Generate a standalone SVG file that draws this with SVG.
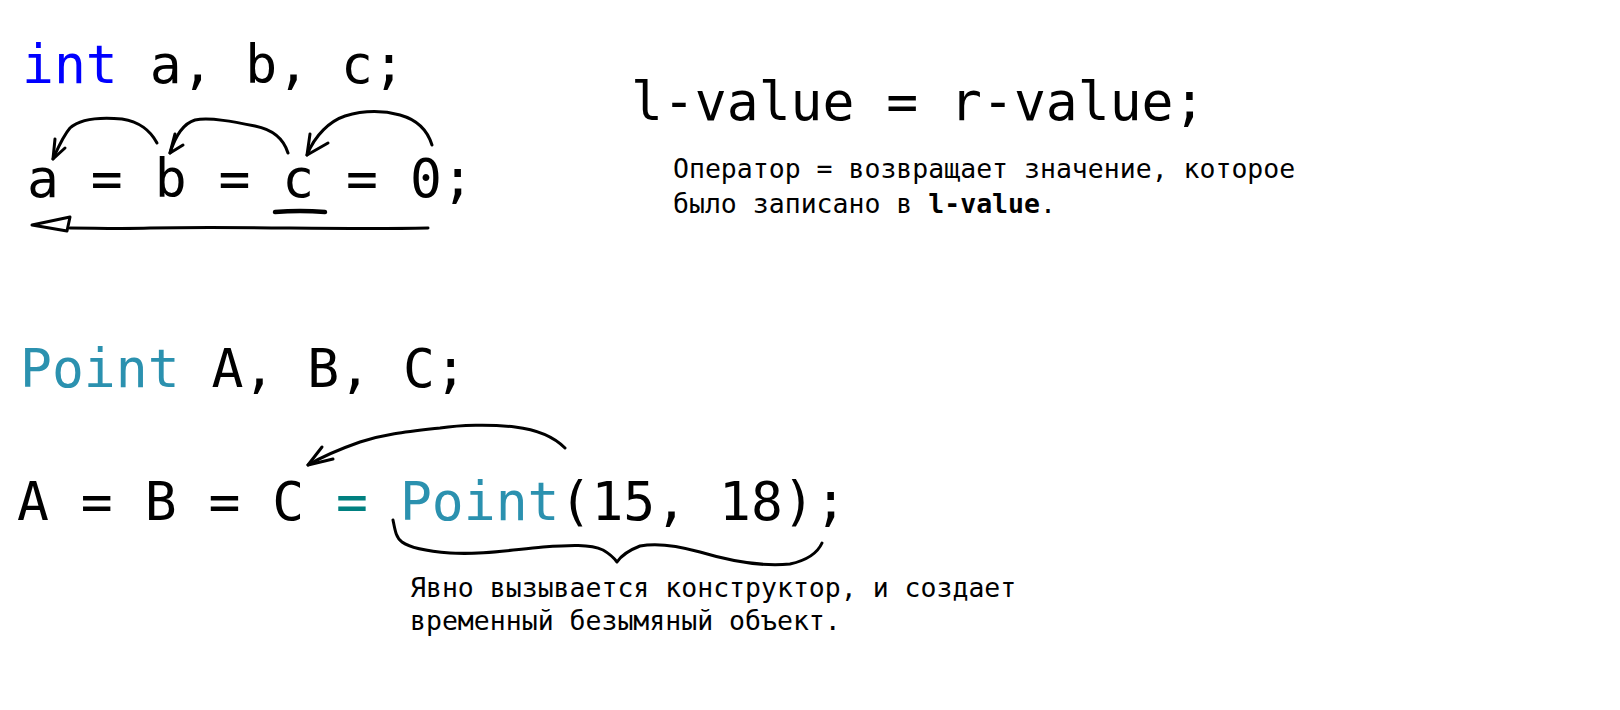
<svg xmlns="http://www.w3.org/2000/svg" width="1620" height="710" viewBox="0 0 1620 710">
<style>
.code{font-family:"DejaVu Sans Mono","Liberation Mono",monospace;font-size:53px;fill:#000}
.note{font-family:"DejaVu Sans Mono","Liberation Mono",monospace;font-size:26.5px;fill:#000}
.kw{fill:#0000ff}
.cls{fill:#2b91af}
.op{fill:#008080}
.ink{fill:none;stroke:#000;stroke-width:3;stroke-linecap:round;stroke-linejoin:round}
</style>
<rect width="1620" height="710" fill="#fff"/>
<g id="decl-int"><text class="code" x="22" y="83"><tspan class="kw">int</tspan> a, b, c;</text></g>
<g id="assign-int"><text class="code" x="27" y="197">a = b = c = 0;</text></g>
<g id="lvalue-rvalue"><text class="code" x="631" y="120">l-value = r-value;</text></g>
<g id="note-operator">
<text class="note" x="673" y="178">Оператор = возвращает значение, которое</text>
<text class="note" x="673" y="213">было записано в <tspan font-weight="bold">l-value</tspan>.</text>
</g>
<g id="decl-point"><text class="code" x="20" y="387"><tspan class="cls">Point</tspan> A, B, C;</text></g>
<g id="assign-point"><text class="code" x="17" y="520">A = B = C <tspan class="op">=</tspan> <tspan class="cls">Point</tspan>(15, 18);</text></g>
<g id="note-ctor">
<text class="note" x="410" y="597">Явно вызывается конструктор, и создает</text>
<text class="note" x="410" y="630">временный безымяный объект.</text>
</g>
<g id="connectors">
<path class="ink" d="M157,143 C150,130 140,122 122,119 C100,117 80,119 70,128 C63,136 58,148 53,159"/>
<path class="ink" d="M55,139 L53,159 L65,148"/>
<path class="ink" d="M288,153 C284,140 275,130 255,126 C235,122 210,117 195,120 C185,123 176,134 170,153"/>
<path class="ink" d="M175,134 L170,153 L183,145"/>
<path class="ink" d="M432,145 C428,132 418,120 400,115 C385,111 365,110 345,116 C330,121 315,135 307,155"/>
<path class="ink" d="M310,134 L307,155 L328,143"/>
<path d="M275,212 Q300,210 325,212" fill="none" stroke="#000" stroke-width="4.5" stroke-linecap="round"/>
<path class="ink" d="M428,228 C330,230 250,226 150,228 C120,229 95,228 70,228"/>
<path class="ink" d="M32,225 L70,217 L67,231 Z"/>
<path class="ink" d="M565,448 C555,438 540,430 515,427 C490,424 460,425 440,428 C405,432 385,434 360,442 C340,449 320,458 308,465"/>
<path class="ink" d="M322,447 L308,465 L333,459"/>
<path class="ink" d="M393,520 C395,530 396,538 402,542 C410,548 425,551 450,553 C480,555 510,550 543,547 C570,545 590,544 603,550 C610,554 614,558 617,562 C621,556 627,551 640,546 C655,543 675,545 700,552 C730,561 760,567 790,564 C808,560 818,552 822,543"/>
</g>
</svg>
